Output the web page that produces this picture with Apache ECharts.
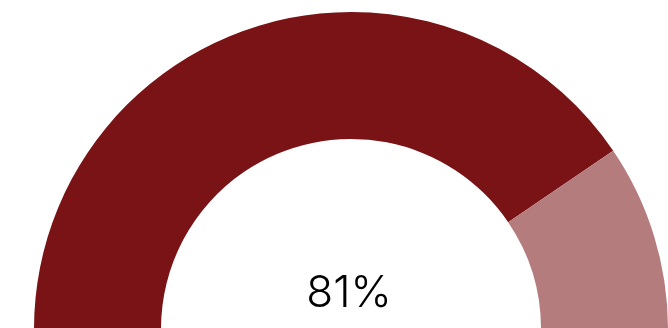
<!DOCTYPE html>
<html>
<head>
<meta charset="utf-8">
<script src="https://cdn.jsdelivr.net/npm/echarts@6/dist/echarts.min.js"></script>
<style>
  html, body { margin: 0; padding: 0; background: #fff; }
  #chart { width: 668px; height: 328px; }
</style>
</head>
<body>
<div id="chart"></div>
<script>
  // gauge share, percent
  var valueShare = 81;
  var restShare = 100 - valueShare;
  var sliceColors = ['#7a1315', '#b57c7d'];

  var chart = echarts.init(document.getElementById('chart'));

  var option = {
    animation: false,
    series: [{
      type: 'pie',
      center: [351, 329],
      radius: [190, 317],
      startAngle: 180,
      clockwise: true,
      silent: true,
      label: { show: false },
      labelLine: { show: false },
      data: [
        { value: valueShare, itemStyle: { color: sliceColors[0] } },
        { value: restShare, itemStyle: { color: sliceColors[1] } },
        // hidden lower half
        { value: 100, itemStyle: { color: 'transparent' } }
      ]
    }],
    graphic: [{
      type: 'text',
      x: 349,
      y: 294,
      style: {
        text: valueShare + '%',
        font: '300 44px Inter, "Noto Sans", sans-serif',
        fill: '#000',
        align: 'center',
        verticalAlign: 'middle'
      }
    }]
  };

  chart.setOption(option);
</script>
</body>
</html>
